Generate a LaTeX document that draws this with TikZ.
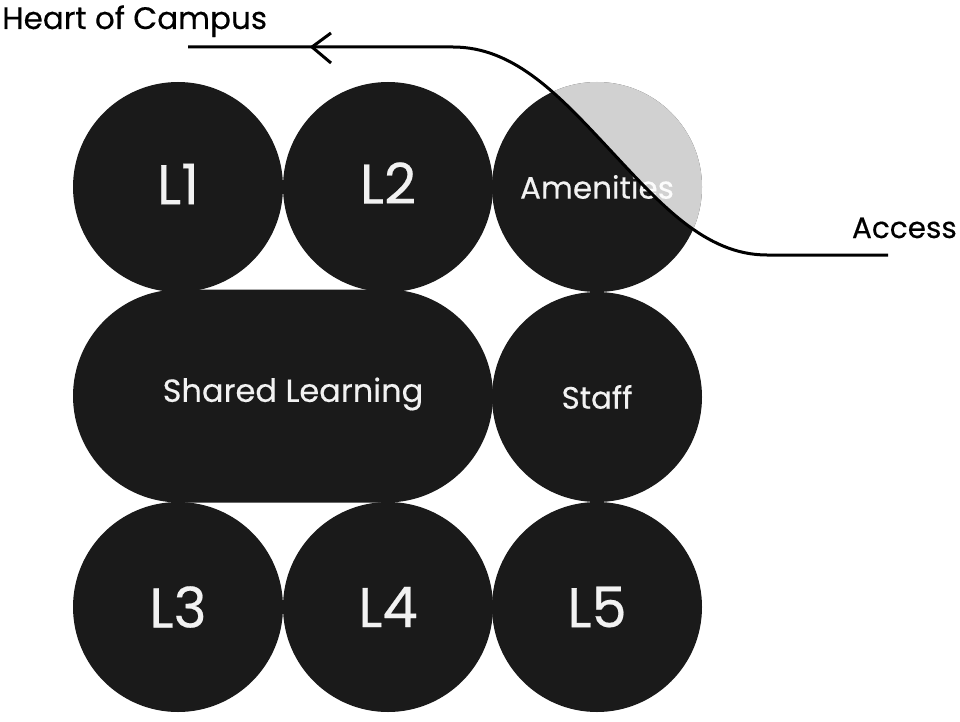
\documentclass[tikz,border=0pt]{standalone}
\usepackage{fontspec}
\setmainfont{Poppins}[FakeBold=0.35]
\usetikzlibrary{shapes.misc}
\definecolor{blob}{HTML}{1A1A1A}
\definecolor{txt}{HTML}{F2F2F2}
\begin{document}
\begin{tikzpicture}[x=1pt,y=-1pt,
  room/.style={circle,fill=blob,draw=none,minimum size=210pt,inner sep=0pt,text=txt},
  big/.style={font=\fontsize{56}{56}\selectfont},
  flow/.style={line width=3pt,black},
  tag/.style={text=black,inner sep=0pt}]
\fill[white] (0,0) rectangle (960,722);
\useasboundingbox (0,0) rectangle (960,722);
% row 1
\node[room,big,label={[big,text=txt,yshift=3pt]center:L1}] (l1) at (178,187) {};
\node[room,big,label={[big,text=txt,yshift=4pt]center:L2}] (l2) at (388,187) {};
\node[room,font=\fontsize{31}{31}\selectfont] (amen) at (597,187) {Amenities};
% row 2
\node[rounded rectangle,fill=blob,draw=none,minimum width=420pt,minimum height=213pt,inner sep=0pt,
  label={[font=\fontsize{32}{32}\selectfont,text=txt,xshift=10pt,yshift=2pt]center:Shared Learning}] (shared) at (283,396) {};
\node[room,font=\fontsize{31}{31}\selectfont] (staff) at (597,397) {Staff};
% row 3
\node[room,big] (l3) at (178,607) {L3};
\node[room,big] (l4) at (388,607) {L4};
\node[room,big] (l5) at (597,607) {L5};
% light overlay on Amenities
\begin{scope}
  \clip (amen.center) circle (105pt);
  \fill[white,opacity=0.8] (453,30) -- (453,47) .. controls (515,47) and (560,96.5) .. (610,150)
    .. controls (660,203.5) and (705,255) .. (767,255) -- (820,255) -- (820,30) -- cycle;
\end{scope}
% labels
\node[tag,anchor=base west,font=\fontsize{31}{31}\selectfont] (heart) at (2,29) {Heart of Campus};
\node[tag,anchor=base east,font=\fontsize{29.5}{29.5}\selectfont] (access) at (957,238) {Access};
% route
\coordinate (acc) at (888,255);
\coordinate (hoc) at (188,47);
\coordinate (tip) at (312,47);
\draw[flow] (acc) -- (767,255) .. controls (705,255) and (660,203.5) .. (610,150)
  .. controls (560,96.5) and (515,47) .. (453,47) -- (hoc);
\draw[flow] ([shift={(19,-14)}]tip) -- (tip) -- ([shift={(19,16)}]tip);
\end{tikzpicture}
\end{document}
